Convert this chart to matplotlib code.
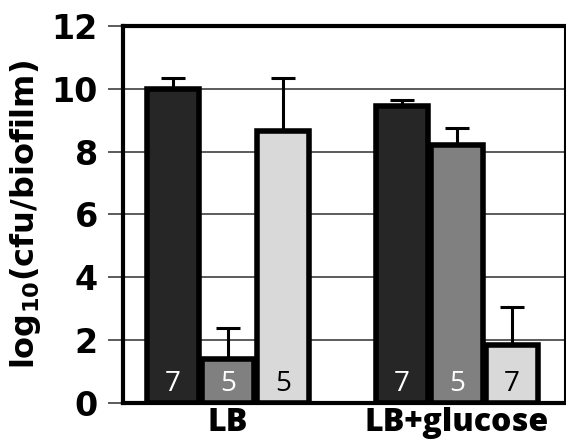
import numpy as np
import matplotlib
matplotlib.use("Agg")
import matplotlib.pyplot as plt

# data
groups = ["LB", "LB+glucose"]
means = [[10.0, 1.4, 8.65], [9.45, 8.2, 1.85]]
errs = [[0.35, 1.0, 1.7], [0.18, 0.55, 1.22]]
counts = [["7", "5", "5"], ["7", "5", "7"]]
colors = ["#262626", "#808080", "#d9d9d9"]
count_colors = ["white", "white", "black"]
yticks = [0, 2, 4, 6, 8, 10, 12]

group_start = [0.0, 4.17]

fig = plt.figure(figsize=(5.66, 4.47), dpi=100)
ax = fig.add_axes([0.217, 0.0984, 0.781, 0.8436])

for g, start in enumerate(group_start):
    for i in range(3):
        x = start + i
        ax.bar(x, means[g][i], width=0.95, color=colors[i], edgecolor="black",
               linewidth=4, zorder=3)
        ax.errorbar(x, means[g][i], yerr=[[0], [errs[g][i]]], fmt="none",
                    ecolor="black", elinewidth=2.2, capsize=8.5, capthick=2.2,
                    zorder=2)
        ax.text(x, 0.6, counts[g][i], ha="center", va="center",
                color=count_colors[i], fontsize=20, family="Open Sans",
                zorder=4)

ax.set_xlim(-0.91, 7.13)
ax.set_ylim(0, 12)
ax.set_yticks(yticks)
ax.set_yticklabels([str(t) for t in yticks], fontsize=24, fontweight="heavy",
                   family="DejaVu Sans")
ax.set_xticks([s + 1 for s in group_start])
ax.set_xticklabels(groups, fontsize=23, fontweight="heavy", family="Open Sans")
ax.tick_params(axis="x", length=0, pad=3)
ax.tick_params(axis="y", length=11, width=1.2, color="#404040", pad=7)
ax.yaxis.grid(True, color="#404040", linewidth=1.2, zorder=0)
ax.set_axisbelow(True)

ax.set_ylabel(r"log$_{\mathbf{10}}$(cfu/biofilm)", fontsize=23,
              fontweight="heavy", family="DejaVu Sans", labelpad=6)

for side in ["top", "left", "bottom"]:
    ax.spines[side].set_linewidth(3)
ax.spines["right"].set_linewidth(1.5)

fig.savefig("out.png", dpi=100)
